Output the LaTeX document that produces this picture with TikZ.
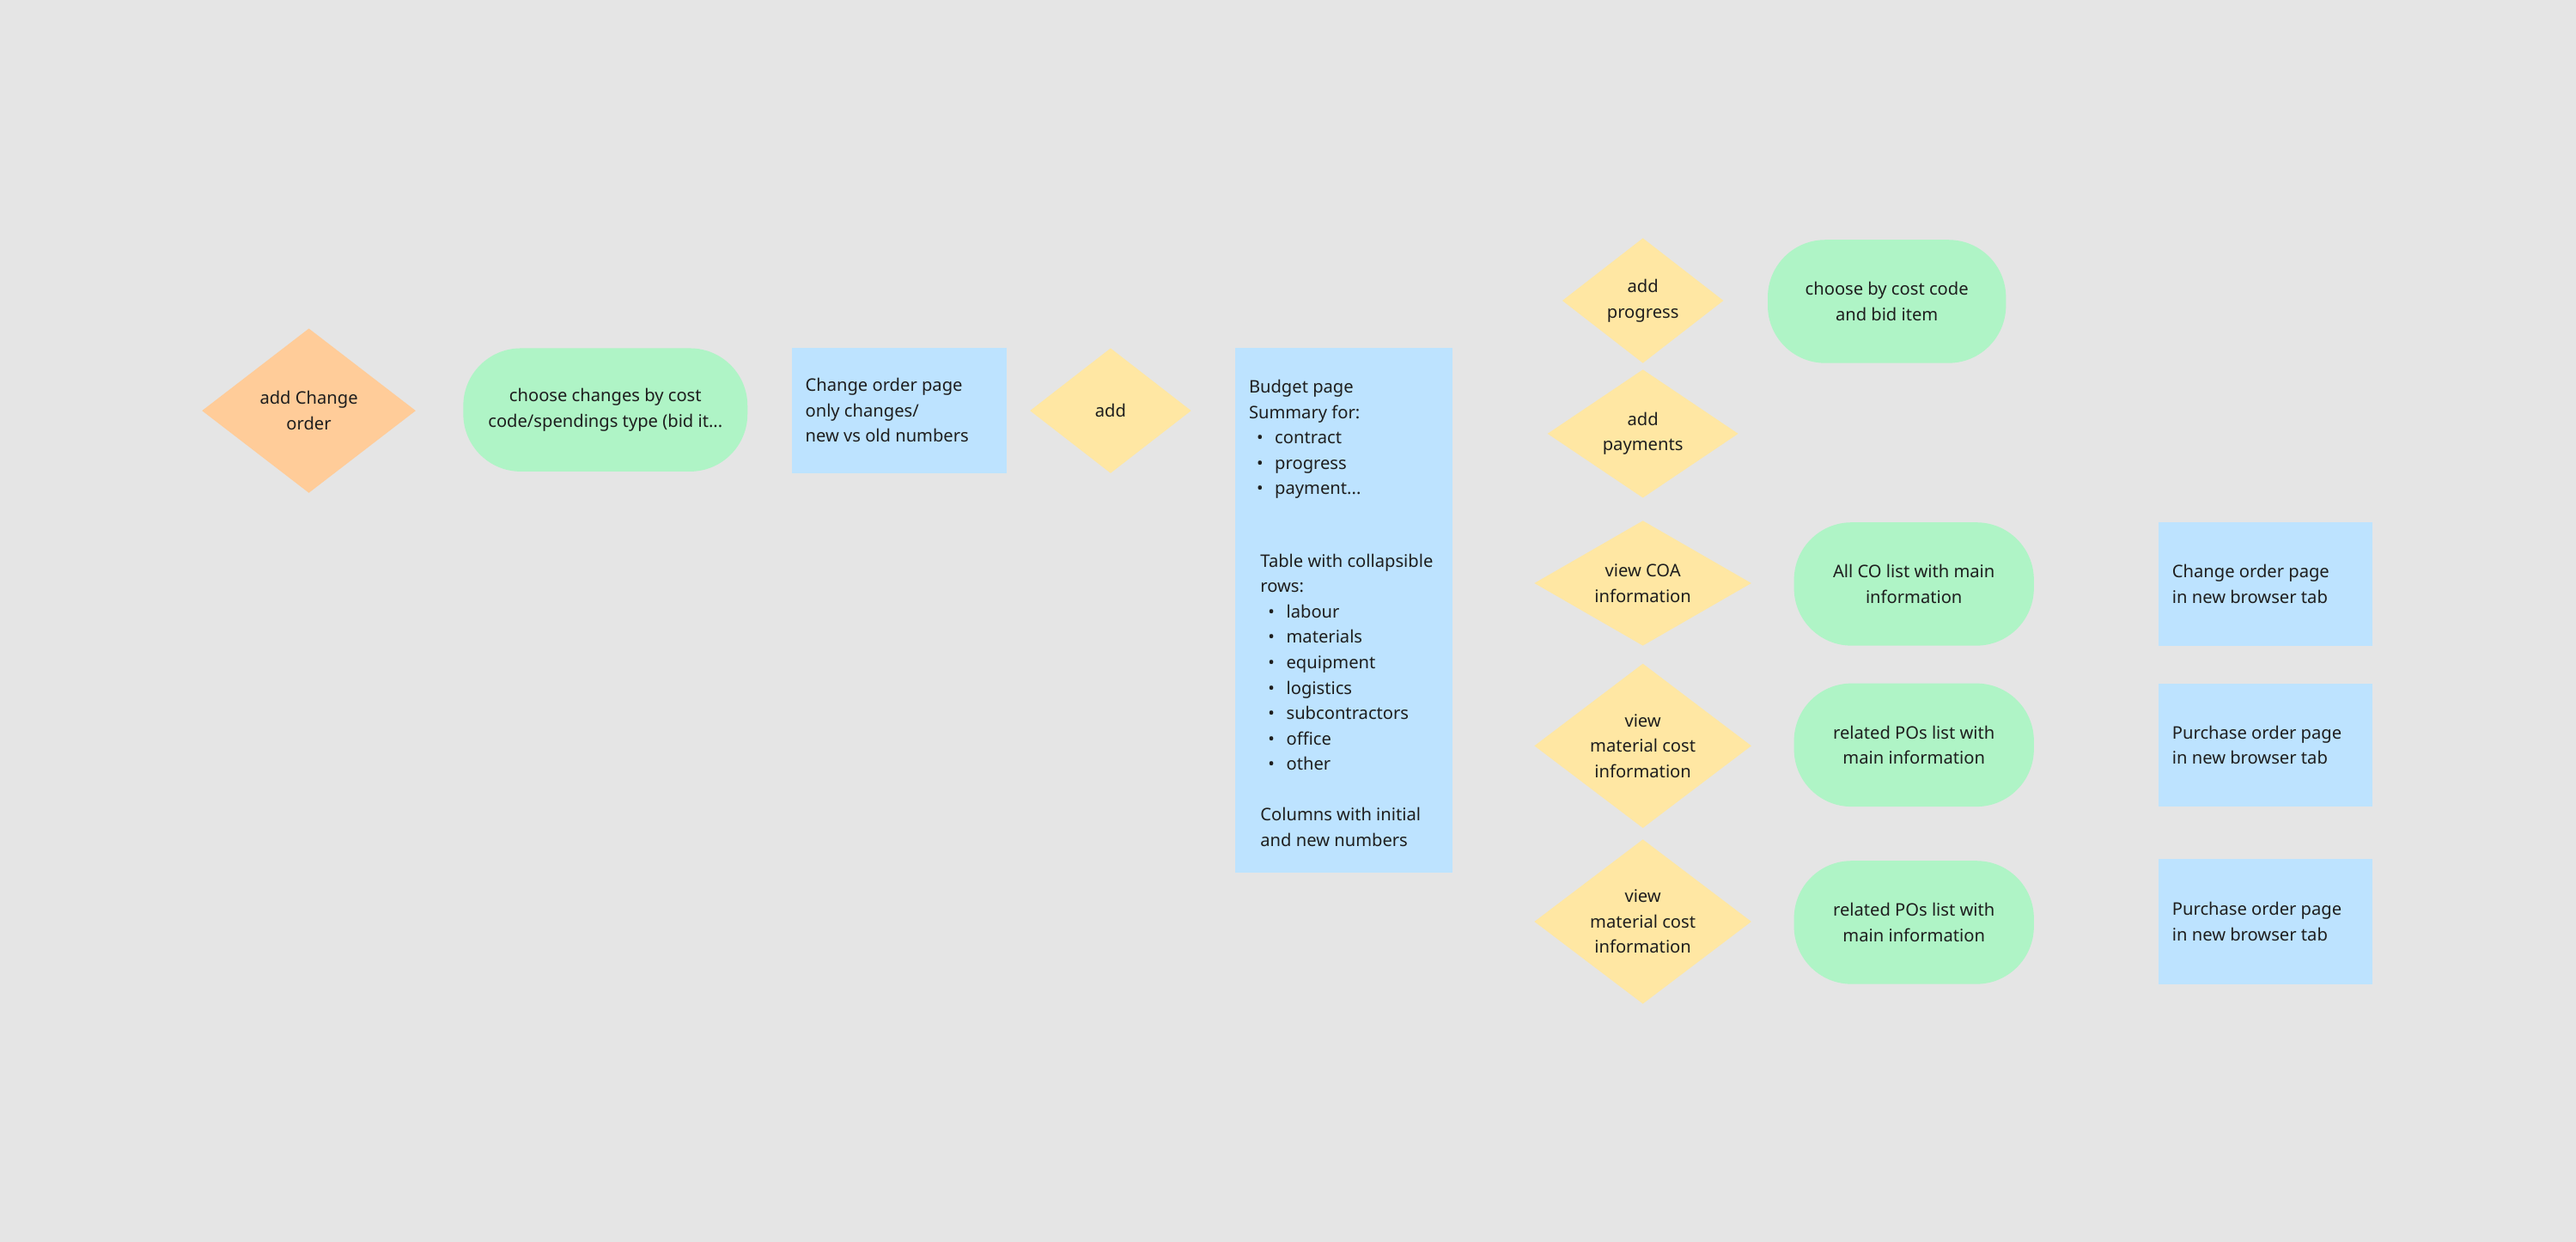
\documentclass[tikz,border=0pt]{standalone}
\usepackage{fontspec}
\setmainfont{Noto Sans}
\usetikzlibrary{shapes.geometric}
\definecolor{bg}{HTML}{E5E5E5}
\definecolor{orng}{HTML}{FFCC99}
\definecolor{grn}{HTML}{AFF4C6}
\definecolor{blu}{HTML}{BDE3FF}
\definecolor{yel}{HTML}{FFE7A3}
\definecolor{txt}{HTML}{1E1E1E}
\newcommand{\bl}[1]{\hspace*{0.45em}\makebox[1.05em][l]{•}#1}
\tikzset{
 x=0.02cm,y=-0.02cm,
 every node/.style={font=\fontsize{6}{8.8}\selectfont, text=txt},
 dia/.style={diamond, aspect=1.3, fill=yel, inner sep=0pt, align=center},
 pill/.style={rounded corners=0.4cm, fill=grn, align=center},
 page/.style={fill=blu, align=left},
}
\newcommand{\dmd}[6]{% name,cx,cy,w,h,text
 \fill[#6] (#2-#4/2,#3) -- (#2,#3-#5/2) -- (#2+#4/2,#3) -- (#2,#3+#5/2) -- cycle;}
\begin{document}
\begin{tikzpicture}
\fill[bg] (0,0) rectangle (1568,756);
\useasboundingbox (0,0) rectangle (1568,756);
% diamonds
\dmd{a}{188}{250}{130}{100}{orng}
\node[align=center] (a) at (188,250) {add Change\\order};
\dmd{b}{676}{250}{98}{76}{yel}
\node (b) at (676,250) {add};
\dmd{c}{1000}{183}{98}{76}{yel}
\node[align=center] (c) at (1000,183) {add\\progress};
\dmd{d}{1000}{264}{116}{78}{yel}
\node[align=center] (d) at (1000,264) {add\\payments};
\dmd{e}{1000}{355}{132}{76}{yel}
\node[align=center] (e) at (1000,355) {view COA\\information};
\dmd{f}{1000}{454}{132}{100}{yel}
\node[align=center] (f) at (1000,454) {view\\material cost\\information};
\dmd{g}{1000}{561}{132}{100}{yel}
\node[align=center] (g) at (1000,561) {view\\material cost\\information};
% green pills
\fill[grn,rounded corners=0.7cm] (282,212) rectangle (455,287);
\node[align=center] (p1) at (368.5,249.5) {choose changes by cost\\code/spendings type (bid it...};
\fill[grn,rounded corners=0.7cm] (1076,146) rectangle (1221,221);
\node[align=center] (p2) at (1148.5,183.5) {choose by cost code\\and bid item};
\fill[grn,rounded corners=0.7cm] (1092,318) rectangle (1238,393);
\node[align=center] (p3) at (1165,355.5) {All CO list with main\\information};
\fill[grn,rounded corners=0.7cm] (1092,416) rectangle (1238,491);
\node[align=center] (p4) at (1165,453.5) {related POs list with\\main information};
\fill[grn,rounded corners=0.7cm] (1092,524) rectangle (1238,599);
\node[align=center] (p5) at (1165,561.5) {related POs list with\\main information};
% blue pages
\fill[blu] (482,212) rectangle (613,288);
\node[align=left,anchor=north west] (q1) at (484,224) {\textbf{Change order page}\\only changes/\\new vs old numbers};
\fill[blu] (1314,318) rectangle (1444,393);
\node[align=left,anchor=west] (q2) at (1316,355.5) {\textbf{Change order page}\\in new browser tab};
\fill[blu] (1314,416) rectangle (1444,491);
\node[align=left,anchor=west] (q3) at (1316,453.5) {\textbf{Purchase order page}\\in new browser tab};
\fill[blu] (1314,523) rectangle (1444,599);
\node[align=left,anchor=west] (q4) at (1316,561) {\textbf{Purchase order page}\\in new browser tab};
\fill[blu] (752,212) rectangle (884,531);
\node[align=left,anchor=north west] (bud1) at (754,225) {\textbf{Budget page}\\Summary for:\\\bl{contract}\\\bl{progress}\\\bl{payment...}};
\node[align=left,anchor=north west] (bud2) at (761,331) {Table with collapsible\\rows:\\\bl{labour}\\\bl{materials}\\\bl{equipment}\\\bl{logistics}\\\bl{subcontractors}\\\bl{office}\\\bl{other}\\[8.8pt]Columns with initial\\and new numbers};
\end{tikzpicture}
\end{document}
